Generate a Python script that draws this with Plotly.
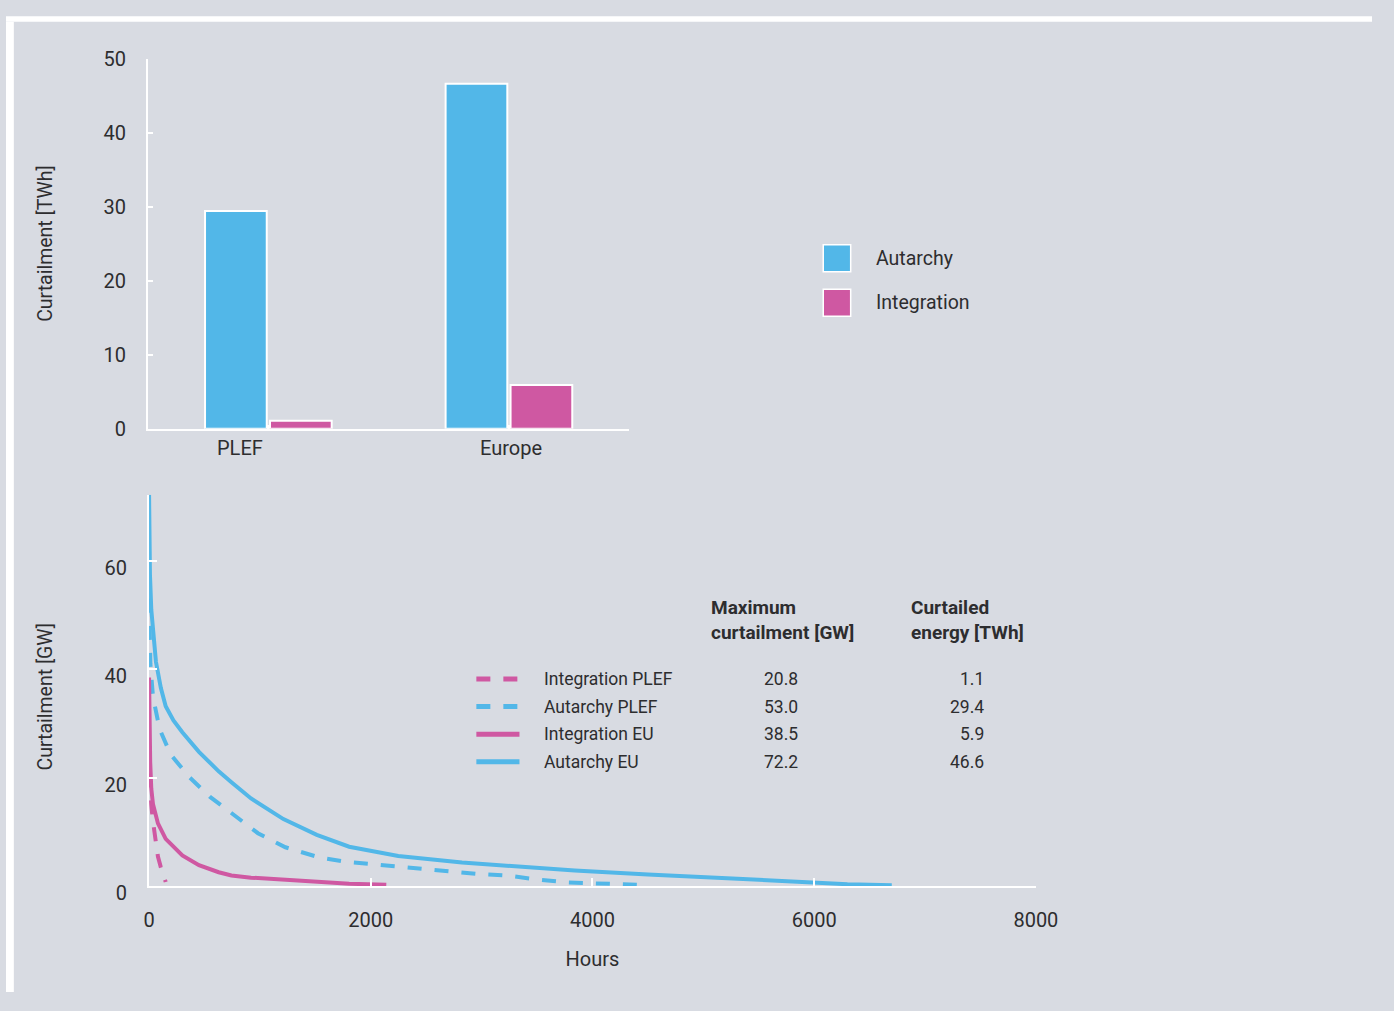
import plotly.graph_objects as go

# ---- data ----
regions = ["PLEF", "Europe"]
autarchy_twh = [29.4, 46.6]
integration_twh = [1.1, 5.9]

# load-duration curves of curtailment (hours, GW)
aut_eu_h = [0, 3, 8, 20, 35, 62, 106, 150, 220, 300, 450, 628, 743, 920, 1212, 1513,
            1805, 2248, 2823, 3133, 3840, 4500, 4903, 5400, 5867, 6300, 6700]
aut_eu_gw = [72.2, 62, 57.5, 51, 46.8, 41.4, 36.6, 33.2, 30.6, 28.4, 24.8, 21.2, 19.2, 16.2,
             12.4, 9.5, 7.3, 5.6, 4.4, 3.9, 2.9, 2.2, 1.8, 1.2, 0.7, 0.4, 0.2]

aut_plef_h = [0, 5, 12, 35, 95, 195, 360, 550, 770, 982, 1230, 1540, 1788, 2097, 2370,
              2655, 2945, 3230, 3487, 3787, 4053, 4400]
aut_plef_gw = [53.0, 47, 41, 35, 29, 24.3, 20.2, 16.5, 13.0, 9.8, 7.2, 5.3, 4.5, 3.9, 3.4,
               2.9, 2.3, 2.0, 1.3, 0.7, 0.5, 0.3]

int_eu_h = [0, 4, 10, 20, 35, 80, 150, 300, 450, 628, 743, 920, 1363, 1805, 2140]
int_eu_gw = [38.5, 30, 23, 18, 15.2, 11.6, 8.75, 5.7, 3.9, 2.6, 2.0, 1.6, 1.0, 0.5, 0.3]

int_plef_h = [0, 8, 20, 35, 55, 80, 105, 125, 150]
int_plef_gw = [20.8, 17.5, 15, 12, 8.6, 5.5, 3.6, 2.4, 0.8]

series_names = ["Integration PLEF", "Autarchy PLEF", "Integration EU", "Autarchy EU"]
max_curtailment_gw = ["20.8", "53.0", "38.5", "72.2"]
curtailed_energy_twh = ["1.1", "29.4", "5.9", "46.6"]

# ---- style ----
W, H = 1394, 1011
BLUE = "#52b7e8"
PINK = "#cf58a2"
BG = "#d8dbe2"
TXT = "#2d2d2f"
FONT = "Roboto, 'Open Sans', sans-serif"
DASH = "14px,13px"


def px(x):
    """pixel -> paper x"""
    return x / W


def py(y):
    """pixel -> paper y"""
    return 1 - y / H


fig = go.Figure()

# top: annual curtailed energy
fig.add_trace(go.Bar(x=regions, y=autarchy_twh, name="Autarchy",
                     marker=dict(color=BLUE, line=dict(color="white", width=2)),
                     xaxis="x", yaxis="y", showlegend=False))
fig.add_trace(go.Bar(x=regions, y=integration_twh, name="Integration",
                     marker=dict(color=PINK, line=dict(color="white", width=2)),
                     xaxis="x", yaxis="y", showlegend=False))

# bottom: duration curves
curves = [
    (int_plef_h, int_plef_gw, PINK, DASH),
    (aut_plef_h, aut_plef_gw, BLUE, DASH),
    (int_eu_h, int_eu_gw, PINK, "solid"),
    (aut_eu_h, aut_eu_gw, BLUE, "solid"),
]
for name, (hx, gy, col, dash) in zip(series_names, curves):
    fig.add_trace(go.Scatter(x=hx, y=gy, mode="lines", name=name,
                             line=dict(color=col, width=4, dash=dash),
                             xaxis="x2", yaxis="y2", showlegend=False))

TICKFONT = dict(size=20, color=TXT, family=FONT)
axis_common = dict(showgrid=False, zeroline=False, showline=True, linecolor="white",
                   linewidth=2, ticks="inside", tickcolor="white", tickwidth=2,
                   tickfont=TICKFONT)

shapes = [
    # page frame strips
    dict(type="rect", xref="paper", yref="paper", x0=0, x1=1, y0=py(10), y1=py(4.5),
         fillcolor="white", line=dict(width=0), layer="below"),
    dict(type="rect", xref="paper", yref="paper", x0=0, x1=px(8), y0=0, y1=py(10),
         fillcolor="white", line=dict(width=0), layer="below"),
]

annotations = []

# category labels under the bars
for cat, shift in zip(regions, [-28, 2]):
    annotations.append(dict(x=cat, xref="x", y=py(450), yref="paper", text=cat,
                            showarrow=False, xshift=shift, xanchor="center",
                            yanchor="middle",
                            font=dict(size=20, color=TXT, family=FONT)))

# y-axis titles
for title, yc in [("Curtailment [TWh]", 239), ("Curtailment [GW]", 707)]:
    annotations.append(dict(x=px(40), y=py(yc), xref="paper", yref="paper",
                            text=title, textangle=-90, showarrow=False,
                            xanchor="center", yanchor="middle",
                            font=dict(size=19.5, color=TXT, family=FONT)))

# bar legend
for i, (lab, col) in enumerate([("Autarchy", BLUE), ("Integration", PINK)]):
    yc = 254 + 46 * i
    shapes.append(dict(type="rect", xref="paper", yref="paper",
                       x0=px(834), x1=px(862), y0=py(yc + 14), y1=py(yc - 14),
                       fillcolor=col, line=dict(color="white", width=1.5)))
    annotations.append(dict(x=px(886), y=py(yc), xref="paper", yref="paper", text=lab,
                            xanchor="left", yanchor="middle", showarrow=False,
                            font=dict(size=19.5, color=TXT, family=FONT)))

# summary table with line keys
tfont = dict(size=17.5, color=TXT, family=FONT)
hfont = dict(size=19, color=TXT, family=FONT)
annotations.append(dict(x=px(717), y=py(627), xref="paper", yref="paper",
                        text="<b>Maximum<br>curtailment [GW]</b>", align="left",
                        xanchor="left", yanchor="middle", showarrow=False, font=hfont))
annotations.append(dict(x=px(922), y=py(627), xref="paper", yref="paper",
                        text="<b>Curtailed<br>energy [TWh]</b>", align="left",
                        xanchor="left", yanchor="middle", showarrow=False, font=hfont))
row_y = [688, 716.5, 745, 773.5]
for name, (hx, gy, col, dash), gmax, energy, yr in zip(series_names, curves,
                                                      max_curtailment_gw,
                                                      curtailed_energy_twh, row_y):
    shapes.append(dict(type="line", xref="paper", yref="paper", x0=px(480), x1=px(524),
                       y0=py(yr), y1=py(yr), line=dict(color=col, width=5, dash=dash)))
    annotations.append(dict(x=px(547), y=py(yr), xref="paper", yref="paper", text=name,
                            xanchor="left", yanchor="middle", showarrow=False, font=tfont))
    annotations.append(dict(x=px(810), y=py(yr), xref="paper", yref="paper", text=gmax,
                            xanchor="right", yanchor="middle", showarrow=False, font=tfont))
    annotations.append(dict(x=px(1000), y=py(yr), xref="paper", yref="paper", text=energy,
                            xanchor="right", yanchor="middle", showarrow=False, font=tfont))

fig.update_layout(
    width=W, height=H,
    margin=dict(l=0, r=0, t=0, b=0),
    paper_bgcolor=BG, plot_bgcolor=BG,
    font=dict(family=FONT, color=TXT),
    barmode="group", bargap=0.46, bargroupgap=0.05,
    showlegend=False,
    xaxis=dict(axis_common, domain=[px(145), px(636)], anchor="y",
               range=[-0.5, 1.5], ticklen=4, showticklabels=False),
    yaxis=dict(axis_common, domain=[py(430), py(48)], anchor="x",
               range=[0, 50], tickvals=[0, 10, 20, 30, 40, 50], ticklen=5,
               ticklabelstandoff=16),
    xaxis2=dict(axis_common, domain=[px(146), px(1051)], anchor="y2",
                range=[0, 8000], tickvals=[0, 2000, 4000, 6000, 8000], ticklen=8,
                ticklabelstandoff=15,
                title=dict(text="Hours", standoff=21,
                           font=dict(size=20, color=TXT, family=FONT))),
    yaxis2=dict(axis_common, domain=[py(902), py(498)], anchor="x2",
                range=[0, 72.2], tickvals=[0, 20, 40, 60], ticklen=8,
                ticklabelstandoff=16, ticklabelshift=7),
    shapes=shapes,
    annotations=annotations,
)

fig.write_html("out.html")
